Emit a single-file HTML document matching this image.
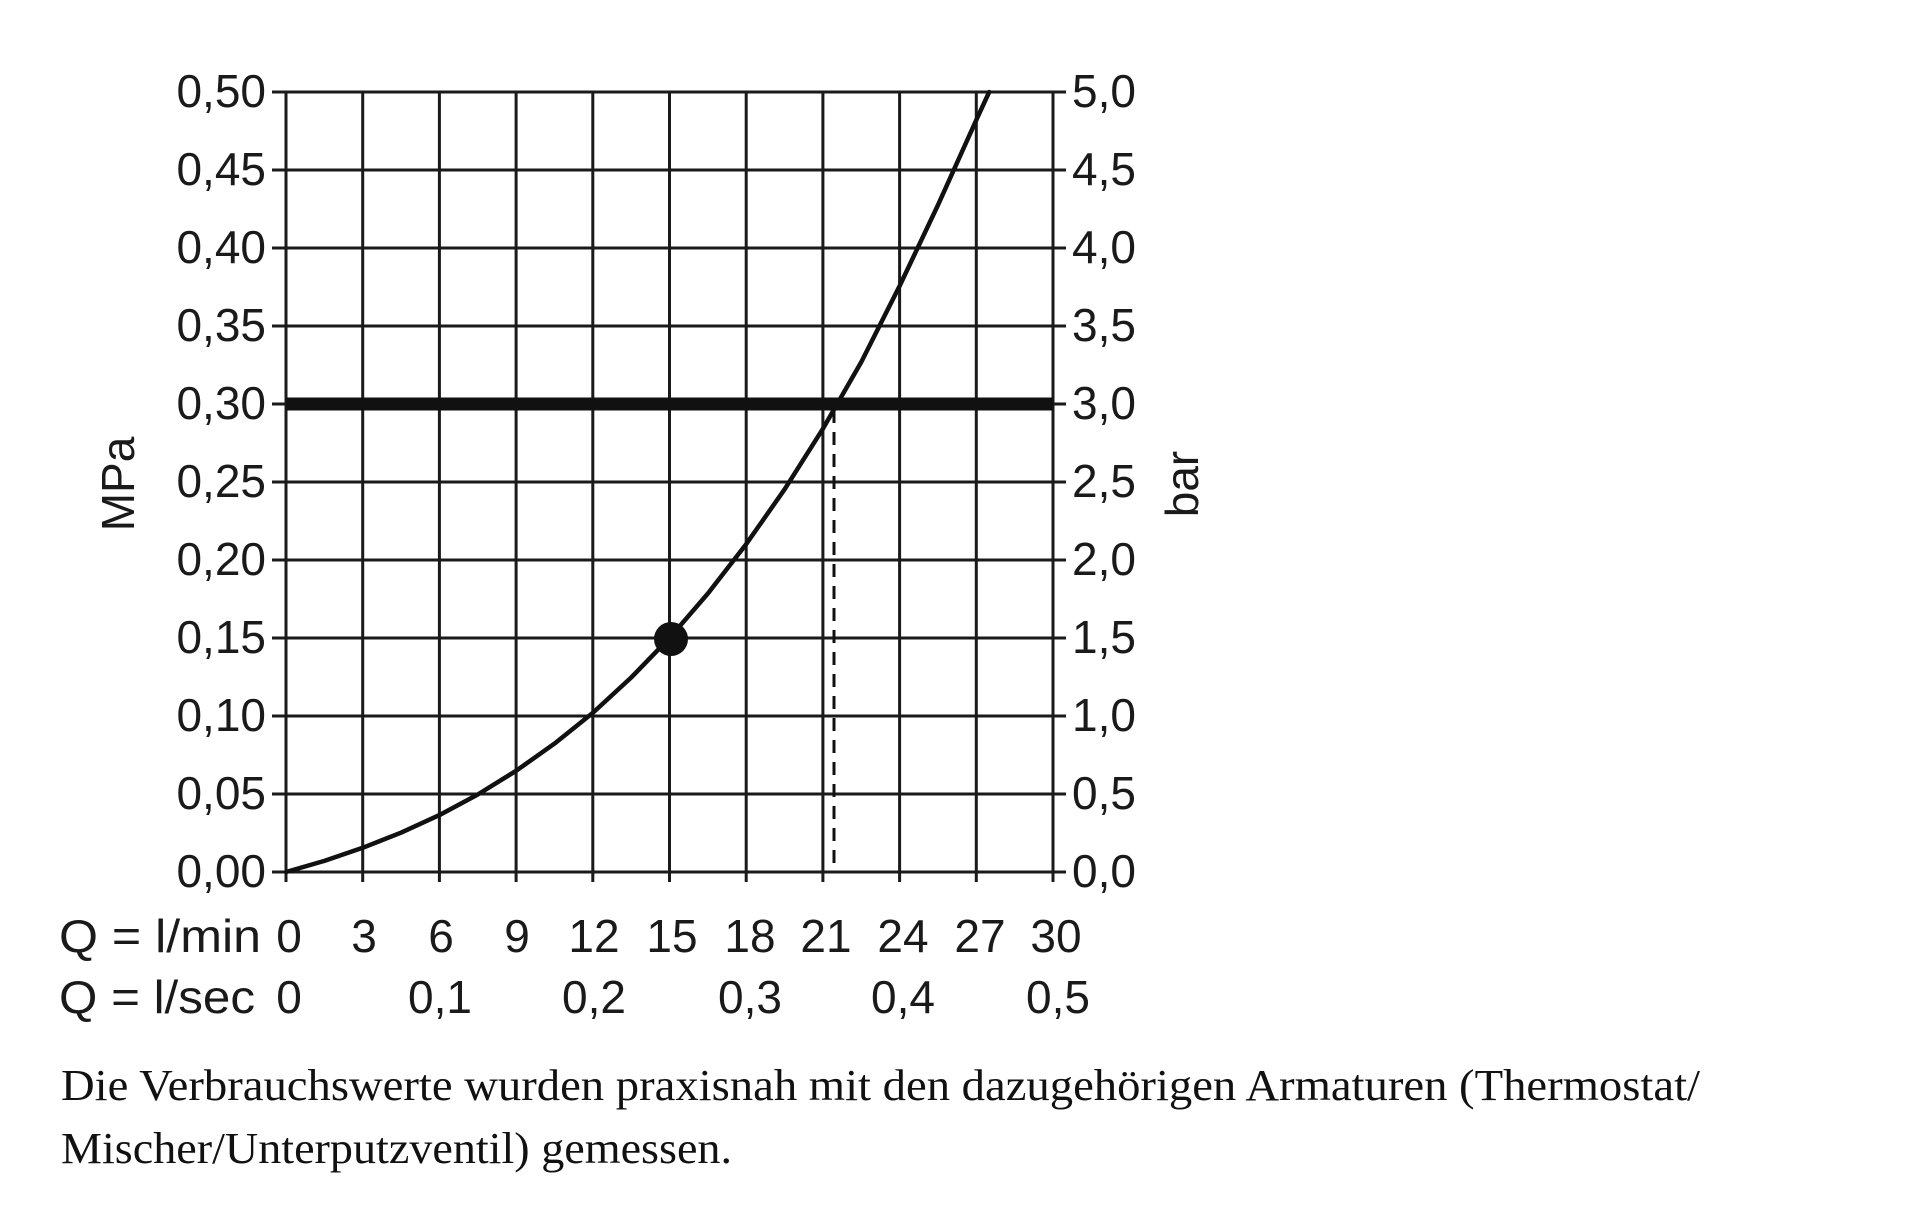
<!DOCTYPE html>
<html><head><meta charset="utf-8"><style>
html,body{margin:0;padding:0;background:#fff;}
svg{display:block}
.t{font-family:"Liberation Sans",sans-serif;font-size:46px;fill:#1a1a1a;font-weight:normal}
.c{font-family:"Liberation Serif",serif;font-size:44px;fill:#111}
</style></head><body>
<svg width="1920" height="1224" viewBox="0 0 1920 1224" xmlns="http://www.w3.org/2000/svg">
<g stroke="#1a1a1a" stroke-width="3" fill="none">
<path d="M286 92V882M362.7 92V882M439.4 92V882M516.1 92V882M592.8 92V882M669.5 92V882M746.2 92V882M822.9 92V882M899.6 92V882M976.3 92V882M1053 92V882"/>
<path d="M272 92H1066M272 170H1066M272 248H1066M272 326H1066M272 404H1066M272 482H1066M272 560H1066M272 638H1066M272 716H1066M272 794H1066M272 872H1066"/>
</g>
<path d="M286 404H1053" stroke="#111" stroke-width="13"/>
<path d="M834 410V872" stroke="#111" stroke-width="3" stroke-dasharray="13,9"/>
<polyline fill="none" stroke="#111" stroke-width="4.5" stroke-linejoin="round" stroke-linecap="round" points="286,872 324.4,860.9 362.7,847.8 401,832.7 439.4,815.1 477.8,794.5 516.1,770.8 554.5,743.6 592.8,712.9 631.2,677.5 669.5,638 707.9,593.5 746.2,544.1 784.6,489.3 822.9,428.8 861.3,362 899.6,286 938,205 976.3,120 989.2,92"/>
<circle cx="671" cy="639" r="17" fill="#111"/>
<g class="t" text-anchor="end">
<text x="266" y="107">0,50</text><text x="266" y="185">0,45</text><text x="266" y="263">0,40</text><text x="266" y="341">0,35</text><text x="266" y="419">0,30</text><text x="266" y="497">0,25</text><text x="266" y="575">0,20</text><text x="266" y="653">0,15</text><text x="266" y="731">0,10</text><text x="266" y="809">0,05</text><text x="266" y="887">0,00</text>
</g>
<g class="t">
<text x="1072" y="107">5,0</text><text x="1072" y="185">4,5</text><text x="1072" y="263">4,0</text><text x="1072" y="341">3,5</text><text x="1072" y="419">3,0</text><text x="1072" y="497">2,5</text><text x="1072" y="575">2,0</text><text x="1072" y="653">1,5</text><text x="1072" y="731">1,0</text><text x="1072" y="809">0,5</text><text x="1072" y="887">0,0</text>
</g>
<text class="t" transform="translate(134,484) rotate(-90)" text-anchor="middle">MPa</text>
<text class="t" transform="translate(1198,484) rotate(-90)" text-anchor="middle">bar</text>
<g class="t" text-anchor="middle">
<text x="289" y="952">0</text><text x="364" y="952">3</text><text x="441" y="952">6</text><text x="517" y="952">9</text><text x="594" y="952">12</text><text x="672" y="952">15</text><text x="750" y="952">18</text><text x="826" y="952">21</text><text x="903" y="952">24</text><text x="980" y="952">27</text><text x="1056" y="952">30</text>
<text x="289" y="1013">0</text><text x="440" y="1013">0,1</text><text x="594" y="1013">0,2</text><text x="750" y="1013">0,3</text><text x="903" y="1013">0,4</text><text x="1058" y="1013">0,5</text>
</g>
<text class="t" x="59" y="952" textLength="202" lengthAdjust="spacingAndGlyphs">Q = l/min</text>
<text class="t" x="59" y="1013" textLength="196" lengthAdjust="spacingAndGlyphs">Q = l/sec</text>
<text class="c" x="61" y="1100" textLength="1639" lengthAdjust="spacingAndGlyphs">Die Verbrauchswerte wurden praxisnah mit den dazugehörigen Armaturen (Thermostat/</text>
<text class="c" x="61" y="1163" textLength="671" lengthAdjust="spacingAndGlyphs">Mischer/Unterputzventil) gemessen.</text>
</svg>
</body></html>
